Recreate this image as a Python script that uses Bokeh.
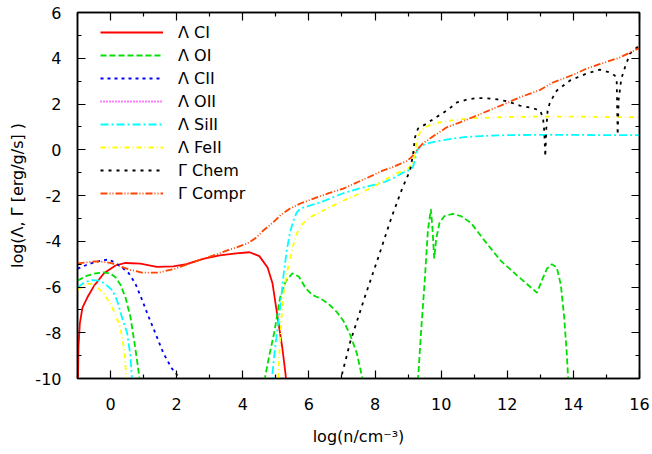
import numpy as np
from bokeh.plotting import figure
from bokeh.models import FixedTicker, LinearAxis, Legend, LegendItem, Range1d
from bokeh.embed import file_html
from bokeh.resources import INLINE

nan = float("nan")

# ---------------- data ----------------
x_major_ticks = [0, 2, 4, 6, 8, 10, 12, 14, 16]
x_minor_ticks = [-1, 1, 3, 5, 7, 9, 11, 13, 15]
y_major_ticks = [-10, -8, -6, -4, -2, 0, 2, 4, 6]
y_minor_ticks = [-9, -7, -5, -3, -1, 1, 3, 5]
x_tick_labels = ["0", "2", "4", "6", "8", "10", "12", "14", "16"]
y_tick_labels = ["-10", "-8", "-6", "-4", "-2", "0", "2", "4", "6"]

ci_x = [-0.99, -0.97, -0.93, -0.85, -0.7, -0.5, -0.2, 0.15, 0.45, 0.9, 1.4, 1.9, 2.3, 2.8,
        3.3, 3.8, 4.2, 4.5, 4.75, 4.9, 5.05, 5.2, 5.3, 5.36]
ci_y = [-10.5, -8.6, -7.6, -6.9, -6.45, -5.95, -5.4, -5.06, -4.95, -4.98, -5.12, -5.1, -5.0, -4.77,
        -4.62, -4.53, -4.48, -4.65, -5.15, -5.85, -7.3, -8.7, -9.9, -10.6]

oi_x = [-1.0, -0.7, -0.45, -0.2, 0.0, 0.15, 0.3, 0.45, 0.6, 0.72, 0.82, 0.92, nan,
        4.6, 4.8, 4.95, 5.13, 5.3, 5.5, 5.7, 5.9, 6.1, 6.35, 6.6, 6.85, 7.05, 7.25, 7.45, 7.65, nan,
        9.28, 9.4, 9.5, 9.6, 9.69, 9.74, 9.79, 9.85, 9.95, 10.1, 10.35, 10.6, 10.9, 11.3, 11.8,
        12.3, 12.9, 13.05, 13.2, 13.35, 13.5, 13.62, 13.72, 13.8, 13.86]
oi_y = [-5.72, -5.5, -5.4, -5.36, -5.42, -5.57, -5.9, -6.45, -7.3, -8.4, -9.4, -10.5, nan,
        -10.5, -9.0, -8.0, -6.45, -5.75, -5.4, -5.55, -6.05, -6.35, -6.5, -6.75, -7.1, -7.5, -8.1,
        -8.9, -10.2, nan,
        -10.5, -7.8, -5.8, -3.5, -2.6, -3.5, -4.75, -3.9, -3.2, -2.9, -2.8, -2.9, -3.2, -3.95, -4.85,
        -5.5, -6.25, -5.7, -5.2, -5.0, -5.15, -5.9, -7.3, -8.9, -10.5]

cii_x = [-1.0, -0.75, -0.5, -0.25, -0.05, 0.15, 0.35, 0.55, 0.75, 0.95, 1.15, 1.35, 1.6, 1.85,
         2.1, 2.2]
cii_y = [-5.2, -5.05, -4.92, -4.83, -4.8, -4.95, -5.15, -5.4, -5.85, -6.55, -7.3, -8.0, -8.9,
         -9.55, -10.0, -10.5]

# O II never reaches the plotted range (no visible values)
oii_x = [-1.0]
oii_y = [nan]

siii_x = [-1.0, -0.8, -0.55, -0.3, -0.1, 0.06, 0.2, 0.36, 0.5, 0.6, 0.67, nan,
          4.85, 4.95, 5.05, 5.13, 5.23, 5.33, 5.43, 5.53, 5.63, 5.74, 6.0, 6.25, 6.65, 7.04, 7.5,
          8.0, 8.25, 8.55, 8.85, 9.05, 9.15, 9.21, 9.27, 9.35, 9.45, 9.65, 9.97, 10.3, 10.7,
          11.2, 12.0, 13.0, 14.0, 15.0, 16.0]
siii_y = [-6.02, -5.8, -5.7, -5.73, -5.95, -6.15, -6.6, -7.4, -8.0, -9.0, -10.5, nan,
          -10.5, -9.0, -7.8, -6.9, -5.5, -4.4, -3.6, -3.1, -2.75, -2.57, -2.45, -2.35, -2.13,
          -1.9, -1.7, -1.52, -1.43, -1.25, -1.0, -0.88, -0.75, -0.4, -0.03, 0.1, 0.2, 0.3, 0.4,
          0.48, 0.55, 0.6, 0.64, 0.65, 0.65, 0.64, 0.64]

feii_x = [-1.0, -0.8, -0.6, -0.4, -0.2, 0.0, 0.15, 0.3, 0.42, 0.5, nan,
          5.05, 5.12, 5.18, 5.24, 5.34, 5.44, 5.54, 5.64, 5.75, 5.9, 6.1, 6.55, 7.05, 7.55, 8.0,
          8.35, 8.7, 9.0, 9.12, 9.2, 9.26, 9.36, 9.5, 9.66, 9.9, 10.17, 10.57, 11.0, 12.0, 13.0,
          14.0, 15.0, 16.0]
feii_y = [-6.15, -5.9, -5.85, -6.0, -6.3, -6.75, -7.2, -7.8, -8.8, -10.5, nan,
          -10.5, -8.5, -7.2, -6.2, -5.35, -4.7, -4.1, -3.65, -3.35, -3.1, -2.9, -2.57, -2.22,
          -1.9, -1.58, -1.27, -1.0, -0.82, -0.65, -0.2, 0.35, 0.77, 0.97, 1.08, 1.18, 1.25, 1.33,
          1.38, 1.43, 1.45, 1.45, 1.43, 1.42]

chem_x = [6.88, 7.25, 7.7, 8.1, 8.5, 8.82, 9.06, 9.15, 9.21, 9.3, 9.45, 9.57, 9.8, 10.03, 10.25,
          10.48, 10.8, 11.08, 11.4, 11.7, 12.0, 12.38, 12.69, 12.99, 13.08, 13.12, 13.15, 13.18,
          13.22, 13.29, 13.5, 13.9, 14.4, 14.8, 15.1, 15.25, 15.31, 15.34, 15.37, 15.45, 15.56,
          15.71, 15.92, 16.0]
chem_y = [-10.5, -8.4, -6.4, -4.7, -2.95, -1.7, -0.9, -0.2, 0.55, 0.93, 1.05, 1.15, 1.38, 1.58,
          1.8, 2.07, 2.2, 2.26, 2.25, 2.2, 2.12, 1.93, 1.85, 1.72, 1.42, 0.8, -0.3, 0.9, 1.7, 2.07,
          2.59, 3.03, 3.33, 3.5, 3.38, 3.25, 3.03, 0.65, 2.2, 3.1, 3.6, 4.2, 4.47, 4.55]

compr_x = [-1.0, -0.7, -0.45, -0.2, 0.05, 0.3, 0.6, 0.95, 1.45, 1.95, 2.3, 2.8, 3.2, 3.53, 3.85,
           4.13, 4.4, 4.62, 4.9, 5.15, 5.43, 5.74, 6.2, 6.6, 7.04, 7.5, 8.0, 8.25, 8.5, 8.76,
           8.95, 9.1, 9.2, 9.3, 9.45, 9.66, 9.9, 10.17, 10.57, 11.0, 11.5, 12.0, 12.38, 13.0,
           13.38, 14.0, 14.4, 15.0, 15.4, 16.0]
compr_y = [-4.97, -4.92, -4.88, -4.9, -4.97, -5.1, -5.25, -5.37, -5.37, -5.2, -5.02, -4.77,
           -4.58, -4.4, -4.25, -4.1, -3.85, -3.53, -3.2, -2.85, -2.57, -2.35, -2.1, -1.9, -1.7,
           -1.4, -1.07, -0.9, -0.78, -0.62, -0.5, -0.33, -0.15, 0.05, 0.28, 0.49, 0.72, 0.98,
           1.2, 1.45, 1.75, 2.05, 2.29, 2.62, 2.94, 3.28, 3.55, 3.84, 4.03, 4.45]

series = [
    ("Λ CI", ci_x, ci_y, "#ff0000", "solid"),
    ("Λ OI", oi_x, oi_y, "#00e000", "6 3"),
    ("Λ CII", cii_x, cii_y, "#0000ff", "3 4"),
    ("Λ OII", oii_x, oii_y, "#ff00ff", "1 2"),
    ("Λ SiII", siii_x, siii_y, "#00ffff", "8 3 2 3"),
    ("Λ FeII", feii_x, feii_y, "#ffff00", "5 3 1 3"),
    ("Γ Chem", chem_x, chem_y, "#000000", "3 5"),
    ("Γ Compr", compr_x, compr_y, "#ff4500", "7 2 1 2 1 2"),
]

FONT = "DejaVu Sans"

p = figure(width=652, height=454, x_range=Range1d(-1, 16), y_range=Range1d(-10, 6),
           output_backend="svg", toolbar_location=None,
           min_border_left=77, min_border_right=13, min_border_top=12, min_border_bottom=76)
p.grid.visible = False
p.background_fill_color = "white"
p.border_fill_color = "white"
p.outline_line_color = "black"
p.outline_line_width = 1.5

def style_axis(ax, show_labels):
    ax.axis_line_color = "black"
    ax.axis_line_width = 1.5
    ax.major_tick_in = 8
    ax.major_tick_out = 0
    ax.minor_tick_in = 4
    ax.minor_tick_out = 0
    ax.major_tick_line_color = "black"
    ax.minor_tick_line_color = "black"
    ax.major_tick_line_width = 1.2
    ax.minor_tick_line_width = 1.2
    ax.major_label_text_font = FONT
    if show_labels:
        ax.major_label_text_font_size = "16px"
        ax.major_label_text_color = "black"
    else:
        ax.major_label_text_font_size = "1px"
        ax.major_label_text_color = None
        ax.major_label_standoff = 0

xt = FixedTicker(ticks=x_major_ticks, minor_ticks=x_minor_ticks)
yt = FixedTicker(ticks=y_major_ticks, minor_ticks=y_minor_ticks)

p.xaxis.ticker = xt
p.yaxis.ticker = yt
style_axis(p.xaxis[0], True)
style_axis(p.yaxis[0], True)
p.xaxis.major_label_overrides = {v: s for v, s in zip(x_major_ticks, x_tick_labels)}
p.yaxis.major_label_overrides = {v: s for v, s in zip(y_major_ticks, y_tick_labels)}
p.xaxis.major_label_standoff = 19
p.yaxis.major_label_standoff = 16
p.xaxis.axis_label = "log(n/cm\u207b\u00b3)"
p.yaxis.axis_label = "log(Λ, Γ [erg/g/s] )"
for ax in (p.xaxis[0], p.yaxis[0]):
    ax.axis_label_text_font = FONT
    ax.axis_label_text_font_size = "16px"
    ax.axis_label_text_font_style = "normal"
    ax.axis_label_text_color = "black"
p.xaxis.axis_label_standoff = 14
p.yaxis.axis_label_standoff = 5

top = LinearAxis(ticker=FixedTicker(ticks=x_major_ticks, minor_ticks=x_minor_ticks))
right = LinearAxis(ticker=FixedTicker(ticks=y_major_ticks, minor_ticks=y_minor_ticks))
style_axis(top, False)
style_axis(right, False)
p.add_layout(top, "above")
p.add_layout(right, "right")

items = []
for label, xs, ys, color, dash in series:
    r = p.line(xs, ys, line_color=color, line_width=1.8, line_dash=dash)
    items.append(LegendItem(label=label, renderers=[r]))

legend = Legend(items=items, location=(23, 175))
legend.label_text_font = FONT
legend.label_text_font_size = "16px"
legend.label_text_color = "black"
legend.glyph_width = 63
legend.glyph_height = 20
legend.label_height = 20
legend.spacing = 3
legend.padding = 5
legend.margin = 0
legend.label_standoff = 15
legend.border_line_color = None
legend.background_fill_alpha = 0
p.add_layout(legend)

open("out.html", "w").write(file_html(p, INLINE))
